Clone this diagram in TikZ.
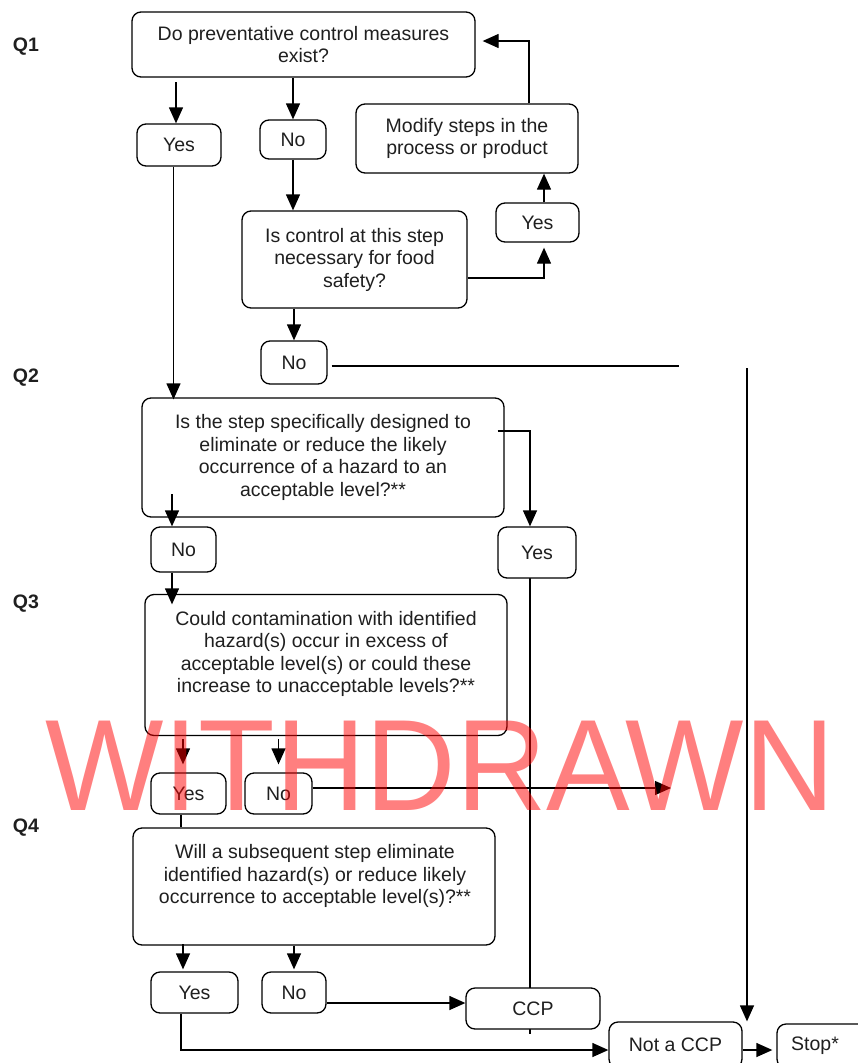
\documentclass[tikz,border=0pt]{standalone}
\usepackage{fontspec}
\setmainfont{Liberation Sans}
\usetikzlibrary{arrows.meta,backgrounds}
\begin{document}
\begin{tikzpicture}[x=1pt,y=-1pt,
  box/.style={draw, fill=white, rounded corners=9pt, line width=1.3pt, align=center, inner sep=0pt,
    text=black!88, font=\fontsize{19.5}{22.5}\selectfont},
  txt/.style={align=center, inner sep=0pt, text=black!88, font=\fontsize{19.5}{22.5}\selectfont},
  sz/.style 2 args={minimum width=#1pt, minimum height=#2pt},
  lab/.style={inner sep=0pt, text=black!88, font=\fontsize{19.5}{22}\selectfont\bfseries},
  line/.style={draw, line width=1.3pt},
  arr/.style={draw, line width=1.3pt, -{Triangle[length=16pt,width=14pt]}},
  wm/.style={inner sep=0pt, text=red, text opacity=0.5, font=\fontsize{130}{130}\selectfont}
]
\useasboundingbox (0,0) rectangle (857,1063);

% question labels
\node[lab] (L1) at (26,47) {Q1};
\node[lab] (L2) at (26,378) {Q2};
\node[lab] (L3) at (26,604) {Q3};
\node[lab] (L4) at (26,828) {Q4};

% boxes
\node[box, sz={343}{65}] (q1) at (303.5,44.5) {Do preventative control measures\\exist?};
\node[box, sz={84}{42}] (yes1) at (179,145) {Yes};
\node[box, sz={66}{39}] (no1) at (293,139.5) {No};
\node[box, sz={222}{69}] (mod) at (467,138.5) {Modify steps in the\\process or product};
\node[box, sz={83}{39}] (yes1r) at (537.5,222.5) {Yes};
\node[box, sz={225}{97}] (q1b) at (354.5,259.5) {Is control at this step\\necessary for food\\safety?};
\node[box, sz={66}{43}] (no1b) at (294,362.5) {No};
\node[box, sz={362}{119}] (q2) at (323,457.5) {Is the step specifically designed to\\eliminate or reduce the likely\\occurrence of a hazard to an\\acceptable level?**};
\node[box, sz={65}{45}] (no2) at (183.5,549.5) {No};
\node[box, sz={78}{51}] (yes2) at (537,552.5) {Yes};
\node[box, sz={362}{141}] (q3) at (326,665) {};
\node[txt] (q3t) at (326,654) {Could contamination with identified\\hazard(s) occur in excess of\\acceptable level(s) or could these\\increase to unacceptable levels?**};
\node[box, sz={75}{41}] (yes3) at (188.5,793.5) {Yes};
\node[box, sz={67}{41}] (no3) at (278.5,793.5) {No};
\node[box, sz={362}{117}] (q4) at (314,886.5) {};
\node[txt] (q4t) at (315,876) {Will a subsequent step eliminate\\identified hazard(s) or reduce likely\\occurrence to acceptable level(s)?**};
\node[box, sz={87}{41}] (yes4) at (194.5,992.5) {Yes};
\node[box, sz={64}{41}] (no4) at (294,992.5) {No};
\node[box, sz={134}{41}] (ccp) at (533,1008.5) {CCP};
\node[box, sz={133}{46}] (ncp) at (675.5,1045) {Not a CCP};
\node[box, sz={92}{44}] (stop) at (823,1046) {};
\node[txt] (stopt) at (815,1046) {Stop*};

% free ends
\coordinate (g1) at (679,366);
\coordinate (g2) at (747,368);
\coordinate (g3) at (671,788);

% connectors
\draw[arr] ([xshift=-3pt,yshift=41pt]yes1.north) -- ([xshift=-3pt]yes1.north);
\draw[arr] (no1.north |- q1.south) -- (no1.north);
\draw[arr] (no1.south) -- (no1.south |- q1b.north);
\draw[arr, shorten >=5pt] ([yshift=-18.5pt]q1b.east) -| ([xshift=6.5pt]yes1r.south);
\draw[arr] ([xshift=6.5pt]yes1r.north) -- ([xshift=77pt]mod.south);
\draw[arr, shorten >=7pt] ([xshift=62pt]mod.north) |- ([yshift=3.5pt]q1.east);
\draw[arr] ([xshift=-5.5pt]yes1.south) -- ([xshift=-149.5pt,yshift=-2pt]q2.north);
\draw[arr] (no1b.north |- q1b.south) -- (no1b.north);
\draw[line] ([xshift=4pt,yshift=-3.5pt]no1b.east) -- (g1);
\draw[arr] (g2) -- (g2 |- ncp.north);
\draw[arr] ([xshift=-7pt,yshift=26.5pt]q2.east) -| ([xshift=-7pt]yes2.north);
\draw[arr] ([xshift=-11.5pt,yshift=32pt]no2.north) -- ([xshift=-11.5pt]no2.north);
\draw[arr] ([xshift=-11.5pt]no2.south) -- ([xshift=-154pt,yshift=-10.5pt]q3.north);
\begin{scope}[on background layer]
\draw[line] ([xshift=-7pt,yshift=3pt]yes2.south) -- ([xshift=-3pt,yshift=-4pt]ccp.south);
\end{scope}
\draw[arr] ([xshift=-5.5pt,yshift=33pt]yes3.north) -- ([xshift=-5.5pt,yshift=8pt]yes3.north);
\draw[arr] ([yshift=33pt]no3.north) -- ([yshift=8pt]no3.north);
\draw[arr] ([yshift=5.5pt]no3.east) -- (g3);
\draw[line] ([xshift=-7.5pt]yes3.south) -- ([xshift=-133pt]q4.north);
\draw[arr] ([xshift=-11.5pt,yshift=27pt]yes4.north) -- ([xshift=-11.5pt,yshift=2pt]yes4.north);
\draw[arr] (no4.north |- q4.south) -- ([yshift=2pt]no4.north);
\draw[arr] ([yshift=-10.5pt]no4.east) -- ([yshift=5.5pt]ccp.west);
\draw[arr] ([xshift=-13.5pt]yes4.south) |- ([yshift=-5pt]ncp.west);
\draw[arr, shorten >=4pt] ([yshift=-5pt]ncp.east) -- ([yshift=-4pt]stop.west);

% watermark
\node[wm, anchor=base, xscale=0.965] (wm) at (440,810) {WITHDRAWN};
\end{tikzpicture}
\end{document}
